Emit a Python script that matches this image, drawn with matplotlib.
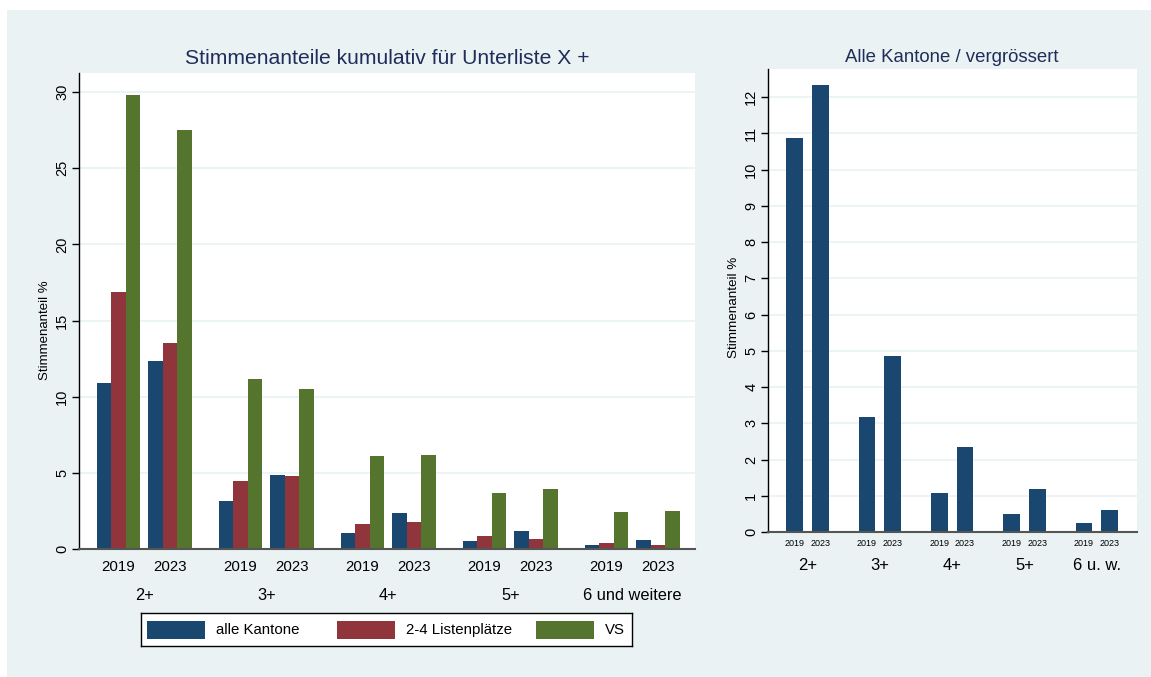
import numpy as np
import matplotlib.pyplot as plt
from matplotlib.patches import Rectangle

# data
categories = ['2+', '3+', '4+', '5+', '6 und weitere']
categories_short = ['2+', '3+', '4+', '5+', '6 u. w.']
years = ['2019', '2023']
series_names = ['alle Kantone', '2-4 Listenplätze', 'VS']
# values ordered by category, then year (2019, 2023)
alle_kantone = [10.88, 12.35, 3.18, 4.87, 1.08, 2.36, 0.50, 1.18, 0.24, 0.60]
listenplaetze = [16.87, 13.52, 4.44, 4.81, 1.62, 1.75, 0.83, 0.68, 0.39, 0.26]
vs = [29.78, 27.53, 11.18, 10.53, 6.08, 6.17, 3.68, 3.96, 2.45, 2.49]

colors = ['#1a476f', '#90353b', '#55752f']
bg = '#eaf2f3'
title_col = '#1f2d5a'

plt.rcParams['font.family'] = ['Liberation Sans', 'DejaVu Sans']

W, H = 1151, 677
fig = plt.figure(figsize=(W / 100, H / 100), dpi=100, facecolor='white')
fig.add_artist(Rectangle((7 / W, 0), 1 - 7 / W, 1 - 10 / H, transform=fig.transFigure,
                         facecolor=bg, edgecolor='none', zorder=-10))


def px_axes(x0, y0, x1, y1):
    return fig.add_axes([x0 / W, 1 - y1 / H, (x1 - x0) / W, (y1 - y0) / H])


def style(ax, ticks):
    ax.set_facecolor('white')
    for s in ['top', 'right']:
        ax.spines[s].set_visible(False)
    ax.spines['left'].set_color('black')
    ax.spines['left'].set_linewidth(1)
    ax.spines['bottom'].set_color('#555555')
    ax.spines['bottom'].set_linewidth(1.5)
    ax.set_xticks([])
    ax.set_yticks(ticks)
    ax.tick_params(axis='y', direction='out', length=5, width=1, labelsize=10.5,
                   labelrotation=90, pad=2)
    for lab in ax.get_yticklabels():
        lab.set_va('center')
    ax.yaxis.grid(True, color=bg, linewidth=1.2)
    ax.set_axisbelow(True)


# ---- left panel
series = [alle_kantone, listenplaetze, vs]
ax = px_axes(79, 73, 695, 549)
pitch, ygap = 8.41, 3.55
for i, cat in enumerate(categories):
    for j, yr in enumerate(years):
        idx = i * 2 + j
        base = i * pitch + j * ygap
        for k, vals in enumerate(series):
            ax.bar(base + k, vals[idx], width=1, align='edge', color=colors[k],
                   edgecolor='none')
        ax.text(base + 1.5, -0.038, yr, transform=ax.get_xaxis_transform(),
                ha='center', va='center', fontsize=10.8)
    ax.text(i * pitch + 3.275, -0.097, cat, transform=ax.get_xaxis_transform(),
            ha='center', va='center', fontsize=11.8)
ax.set_xlim(-1.22, 41.24)
ax.set_ylim(0, 31.25)
style(ax, np.arange(0, 31, 5))
ax.set_ylabel('Stimmenanteil %', fontsize=9.5)
ax.yaxis.set_label_coords(-0.045, 0.46)

fig.text(387 / W, 1 - 58 / H, 'Stimmenanteile kumulativ für Unterliste X +',
         ha='center', va='center', fontsize=15.2, color=title_col)

# legend
lax = px_axes(141, 613, 632, 646)
lax.set_xlim(0, 491)
lax.set_ylim(33, 0)
lax.set_xticks([])
lax.set_yticks([])
lax.set_facecolor('white')
for s in lax.spines.values():
    s.set_color('black')
    s.set_linewidth(1)
patch_x = [6, 196, 395]
for k, name in enumerate(series_names):
    lax.add_patch(Rectangle((patch_x[k], 8), 58, 18, facecolor=colors[k], edgecolor='none'))
    lax.text(patch_x[k] + 69, 17, name, ha='left', va='center', fontsize=10.8)

# ---- right panel
ax2 = px_axes(768, 69, 1137, 532)
pitch2, ygap2 = 4.33, 1.54
for i, cat in enumerate(categories_short):
    for j, yr in enumerate(years):
        base = i * pitch2 + j * ygap2
        ax2.bar(base, alle_kantone[i * 2 + j], width=1, align='edge', color=colors[0],
                edgecolor='none')
        ax2.text(base + 0.5, -0.024, yr, transform=ax2.get_xaxis_transform(),
                 ha='center', va='center', fontsize=6.5)
    ax2.text(i * pitch2 + 1.27, -0.073, cat, transform=ax2.get_xaxis_transform(),
             ha='center', va='center', fontsize=12)
ax2.set_xlim(-1.1, 21.0)
ax2.set_ylim(0, 12.78)
style(ax2, np.arange(0, 13, 1))
ax2.set_ylabel('Stimmenanteil %', fontsize=9.7)
ax2.yaxis.set_label_coords(-0.076, 0.486)

fig.text(952 / W, 1 - 58 / H, 'Alle Kantone / vergrössert',
         ha='center', va='center', fontsize=13.4, color=title_col)

fig.savefig('out.png', dpi=100, facecolor=fig.get_facecolor())
